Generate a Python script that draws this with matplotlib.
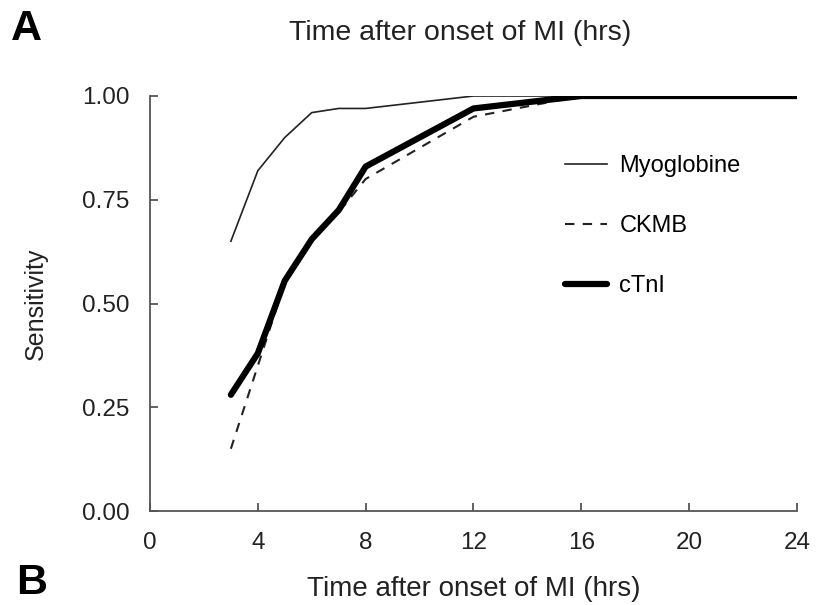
import matplotlib
matplotlib.use("Agg")
import matplotlib.pyplot as plt

plt.rcParams['font.family'] = ['Liberation Sans', 'DejaVu Sans']

hours = [3, 4, 5, 6, 7, 8, 12, 16, 20, 24]
myoglobine = [0.65, 0.82, 0.90, 0.96, 0.97, 0.97, 1.00, 1.00, 1.00, 1.00]
ckmb = [0.15, 0.35, 0.55, 0.65, 0.72, 0.80, 0.95, 1.00, 1.00, 1.00]
ctni = [0.28, 0.38, 0.555, 0.655, 0.725, 0.83, 0.97, 1.00, 1.00, 1.00]
xticks = [0, 4, 8, 12, 16, 20, 24]
yticks = [0.00, 0.25, 0.50, 0.75, 1.00]
ytick_labels = ['0.00', '0.25', '0.50', '0.75', '1.00']

W, H = 820, 605
L, R, T, B = 150, 797, 96, 511

fig = plt.figure(figsize=(8.2, 6.05), dpi=100)
ax = fig.add_axes([L/W, 1-B/H, (R-L)/W, (B-T)/H])

ax.plot(hours, myoglobine, color='#222222', lw=1.2, label='Myoglobine')
ax.plot(hours, ckmb, color='#222222', lw=1.5, ls=(0, (4.5, 4)), label='CKMB')
ax.plot(hours, ctni, color='black', lw=4.5, solid_capstyle='round', label='cTnI')

ax.set_xlim(0, 24)
ax.set_ylim(0, 1)
ax.set_xticks(xticks)
ax.set_yticks(yticks)
ax.set_yticklabels(ytick_labels)
for s in ['top', 'right']:
    ax.spines[s].set_visible(False)
for s in ['left', 'bottom']:
    ax.spines[s].set_color('#555555')
    ax.spines[s].set_linewidth(1.3)
ax.tick_params(direction='in', length=6, width=1.3, color='#555555',
               labelsize=17.5, labelcolor='#222222')
ax.tick_params(axis='y', pad=15)
ax.tick_params(axis='x', pad=15)

ax.set_ylabel('Sensitivity', fontsize=18, color='#222222', labelpad=24)
ax.set_xlabel('Time after onset of MI (hrs)', fontsize=20, color='#222222', labelpad=16)

fig.text(460/W, 1-33/H, 'Time after onset of MI (hrs)', fontsize=20.5,
         color='#222222', ha='center', va='center')
fig.text(11/W, 1-29/H, 'A', fontsize=31, fontweight='bold', ha='left', va='center')
fig.text(16/W, 1-583/H, 'B', fontsize=31, fontweight='bold', ha='left', va='center')

ax.legend(loc='upper left', bbox_to_anchor=((565-L)/(R-L), (B-155)/(B-T)),
          frameon=False, fontsize=17, handlelength=1.8, handletextpad=0.5,
          labelspacing=1.62, borderpad=0, borderaxespad=0)

fig.savefig('out.png', dpi=100)
